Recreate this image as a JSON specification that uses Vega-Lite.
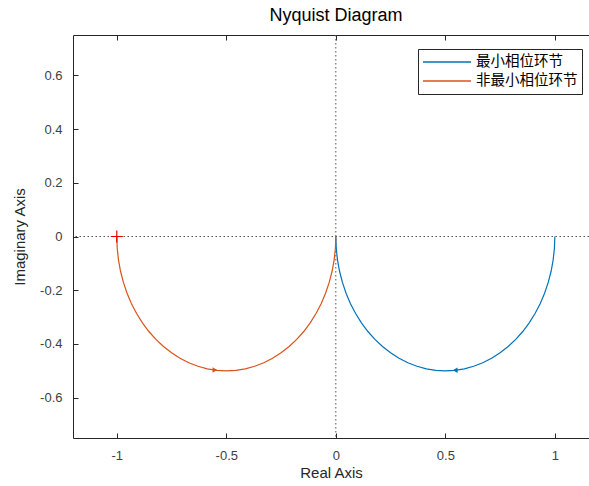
{
  "$schema": "https://vega.github.io/schema/vega-lite/v6.json",
  "width": 516,
  "height": 403,
  "autosize": {"type": "none"},
  "padding": {"left": 73, "top": 35, "right": 0, "bottom": 48},
  "background": "white",
  "title": {"text": "Nyquist Diagram", "font": "Liberation Sans", "fontSize": 18, "fontWeight": "normal", "color": "#000000", "anchor": "middle", "frame": "group", "dx": 5, "offset": 10},
  "datasets": {
    "curves": [
      {"s": "最小相位环节", "i": 0, "re": 1, "im": 0},
      {"s": "最小相位环节", "i": 1, "re": 0.9981, "im": -0.0436},
      {"s": "最小相位环节", "i": 2, "re": 0.9924, "im": -0.0868},
      {"s": "最小相位环节", "i": 3, "re": 0.983, "im": -0.1294},
      {"s": "最小相位环节", "i": 4, "re": 0.9698, "im": -0.171},
      {"s": "最小相位环节", "i": 5, "re": 0.9532, "im": -0.2113},
      {"s": "最小相位环节", "i": 6, "re": 0.933, "im": -0.25},
      {"s": "最小相位环节", "i": 7, "re": 0.9096, "im": -0.2868},
      {"s": "最小相位环节", "i": 8, "re": 0.883, "im": -0.3214},
      {"s": "最小相位环节", "i": 9, "re": 0.8536, "im": -0.3536},
      {"s": "最小相位环节", "i": 10, "re": 0.8214, "im": -0.383},
      {"s": "最小相位环节", "i": 11, "re": 0.7868, "im": -0.4096},
      {"s": "最小相位环节", "i": 12, "re": 0.75, "im": -0.433},
      {"s": "最小相位环节", "i": 13, "re": 0.7113, "im": -0.4532},
      {"s": "最小相位环节", "i": 14, "re": 0.671, "im": -0.4698},
      {"s": "最小相位环节", "i": 15, "re": 0.6294, "im": -0.483},
      {"s": "最小相位环节", "i": 16, "re": 0.5868, "im": -0.4924},
      {"s": "最小相位环节", "i": 17, "re": 0.5436, "im": -0.4981},
      {"s": "最小相位环节", "i": 18, "re": 0.5, "im": -0.5},
      {"s": "最小相位环节", "i": 19, "re": 0.4564, "im": -0.4981},
      {"s": "最小相位环节", "i": 20, "re": 0.4132, "im": -0.4924},
      {"s": "最小相位环节", "i": 21, "re": 0.3706, "im": -0.483},
      {"s": "最小相位环节", "i": 22, "re": 0.329, "im": -0.4698},
      {"s": "最小相位环节", "i": 23, "re": 0.2887, "im": -0.4532},
      {"s": "最小相位环节", "i": 24, "re": 0.25, "im": -0.433},
      {"s": "最小相位环节", "i": 25, "re": 0.2132, "im": -0.4096},
      {"s": "最小相位环节", "i": 26, "re": 0.1786, "im": -0.383},
      {"s": "最小相位环节", "i": 27, "re": 0.1464, "im": -0.3536},
      {"s": "最小相位环节", "i": 28, "re": 0.117, "im": -0.3214},
      {"s": "最小相位环节", "i": 29, "re": 0.0904, "im": -0.2868},
      {"s": "最小相位环节", "i": 30, "re": 0.067, "im": -0.25},
      {"s": "最小相位环节", "i": 31, "re": 0.0468, "im": -0.2113},
      {"s": "最小相位环节", "i": 32, "re": 0.0302, "im": -0.171},
      {"s": "最小相位环节", "i": 33, "re": 0.017, "im": -0.1294},
      {"s": "最小相位环节", "i": 34, "re": 0.0076, "im": -0.0868},
      {"s": "最小相位环节", "i": 35, "re": 0.0019, "im": -0.0436},
      {"s": "最小相位环节", "i": 36, "re": 0, "im": 0},
      {"s": "非最小相位环节", "i": 0, "re": -1, "im": 0},
      {"s": "非最小相位环节", "i": 1, "re": -0.9981, "im": -0.0436},
      {"s": "非最小相位环节", "i": 2, "re": -0.9924, "im": -0.0868},
      {"s": "非最小相位环节", "i": 3, "re": -0.983, "im": -0.1294},
      {"s": "非最小相位环节", "i": 4, "re": -0.9698, "im": -0.171},
      {"s": "非最小相位环节", "i": 5, "re": -0.9532, "im": -0.2113},
      {"s": "非最小相位环节", "i": 6, "re": -0.933, "im": -0.25},
      {"s": "非最小相位环节", "i": 7, "re": -0.9096, "im": -0.2868},
      {"s": "非最小相位环节", "i": 8, "re": -0.883, "im": -0.3214},
      {"s": "非最小相位环节", "i": 9, "re": -0.8536, "im": -0.3536},
      {"s": "非最小相位环节", "i": 10, "re": -0.8214, "im": -0.383},
      {"s": "非最小相位环节", "i": 11, "re": -0.7868, "im": -0.4096},
      {"s": "非最小相位环节", "i": 12, "re": -0.75, "im": -0.433},
      {"s": "非最小相位环节", "i": 13, "re": -0.7113, "im": -0.4532},
      {"s": "非最小相位环节", "i": 14, "re": -0.671, "im": -0.4698},
      {"s": "非最小相位环节", "i": 15, "re": -0.6294, "im": -0.483},
      {"s": "非最小相位环节", "i": 16, "re": -0.5868, "im": -0.4924},
      {"s": "非最小相位环节", "i": 17, "re": -0.5436, "im": -0.4981},
      {"s": "非最小相位环节", "i": 18, "re": -0.5, "im": -0.5},
      {"s": "非最小相位环节", "i": 19, "re": -0.4564, "im": -0.4981},
      {"s": "非最小相位环节", "i": 20, "re": -0.4132, "im": -0.4924},
      {"s": "非最小相位环节", "i": 21, "re": -0.3706, "im": -0.483},
      {"s": "非最小相位环节", "i": 22, "re": -0.329, "im": -0.4698},
      {"s": "非最小相位环节", "i": 23, "re": -0.2887, "im": -0.4532},
      {"s": "非最小相位环节", "i": 24, "re": -0.25, "im": -0.433},
      {"s": "非最小相位环节", "i": 25, "re": -0.2132, "im": -0.4096},
      {"s": "非最小相位环节", "i": 26, "re": -0.1786, "im": -0.383},
      {"s": "非最小相位环节", "i": 27, "re": -0.1464, "im": -0.3536},
      {"s": "非最小相位环节", "i": 28, "re": -0.117, "im": -0.3214},
      {"s": "非最小相位环节", "i": 29, "re": -0.0904, "im": -0.2868},
      {"s": "非最小相位环节", "i": 30, "re": -0.067, "im": -0.25},
      {"s": "非最小相位环节", "i": 31, "re": -0.0468, "im": -0.2113},
      {"s": "非最小相位环节", "i": 32, "re": -0.0302, "im": -0.171},
      {"s": "非最小相位环节", "i": 33, "re": -0.017, "im": -0.1294},
      {"s": "非最小相位环节", "i": 34, "re": -0.0076, "im": -0.0868},
      {"s": "非最小相位环节", "i": 35, "re": -0.0019, "im": -0.0436},
      {"s": "非最小相位环节", "i": 36, "re": 0, "im": 0}
    ],
    "arrows": [
      {"s": "最小相位环节", "dir": "left", "re": 0.545, "im": -0.498},
      {"s": "非最小相位环节", "dir": "right", "re": -0.552, "im": -0.497}
    ],
    "critical": [{"re": -1, "im": 0}]
  },
  "layer": [
    {
      "data": {"values": [{"re": 0}]},
      "mark": {"type": "rule", "color": "#555555", "strokeDash": [1.5, 2.5], "strokeWidth": 1},
      "encoding": {
        "x": {"field": "re", "type": "quantitative", "scale": {"domain": [-1.2, 1.156], "nice": false, "zero": false},
          "axis": {"orient": "top", "values": [-1, -0.5, 0, 0.5, 1], "labels": false, "title": null, "tickSize": -5, "grid": false, "domainColor": "#262626", "tickColor": "#262626"}}
      }
    },
    {
      "data": {"values": [{"im": 0}]},
      "mark": {"type": "rule", "color": "#555555", "strokeDash": [1.5, 2.5], "strokeWidth": 1},
      "encoding": {
        "y": {"field": "im", "type": "quantitative", "scale": {"domain": [-0.75, 0.75], "nice": false, "zero": false}}
      }
    },
    {
      "data": {"name": "curves"},
      "mark": {"type": "line", "strokeWidth": 1.2, "clip": true},
      "encoding": {
        "x": {"field": "re", "type": "quantitative", "scale": {"domain": [-1.2, 1.156], "nice": false, "zero": false},
          "axis": {"orient": "bottom", "values": [-1, -0.5, 0, 0.5, 1], "labelExpr": "toString(datum.value)", "title": "Real Axis", "tickSize": -5, "labelPadding": 16, "titlePadding": 3, "grid": false}},
        "y": {"field": "im", "type": "quantitative", "scale": {"domain": [-0.75, 0.75], "nice": false, "zero": false},
          "axis": {"values": [-0.6, -0.4, -0.2, 0, 0.2, 0.4, 0.6], "labelExpr": "toString(datum.value)", "title": "Imaginary Axis", "tickSize": -5, "labelPadding": 16, "titlePadding": 12, "grid": false}},
        "color": {"field": "s", "type": "nominal", "scale": {"domain": ["最小相位环节", "非最小相位环节"], "range": ["#0072BD", "#D95319"]},
          "legend": {"title": null, "orient": "none", "legendX": 345, "legendY": 14, "symbolType": "stroke", "symbolSize": 2304, "symbolStrokeWidth": 1.5, "clipHeight": 18, "labelFont": "Noto Sans CJK SC", "labelFontSize": 14.5, "labelColor": "#000000", "strokeColor": "#262626", "fillColor": "white", "padding": 4, "rowPadding": 1, "cornerRadius": 0}},
        "order": {"field": "i", "type": "quantitative"}
      }
    },
    {
      "data": {"name": "arrows"},
      "mark": {"type": "point", "filled": true, "size": 30, "opacity": 1},
      "encoding": {
        "x": {"field": "re", "type": "quantitative", "scale": {"domain": [-1.2, 1.156], "nice": false, "zero": false}, "axis": null},
        "y": {"field": "im", "type": "quantitative"},
        "color": {"field": "s", "type": "nominal", "legend": null},
        "shape": {"field": "dir", "type": "nominal", "scale": {"domain": ["left", "right"], "range": ["triangle-left", "triangle-right"]}, "legend": null}
      }
    },
    {
      "data": {"name": "critical"},
      "mark": {"type": "point", "shape": "M-1,0H1M0,-1V1", "size": 144, "filled": false, "color": "#E00000", "strokeWidth": 1.2, "opacity": 1},
      "encoding": {
        "x": {"field": "re", "type": "quantitative", "scale": {"domain": [-1.2, 1.156], "nice": false, "zero": false}, "axis": null},
        "y": {"field": "im", "type": "quantitative"}
      }
    }
  ],
  "resolve": {"axis": {"x": "independent"}},
  "config": {
    "view": {"stroke": null},
    "axis": {"labelFont": "Liberation Sans", "labelFontSize": 13, "labelColor": "#404040", "titleFont": "Liberation Sans", "titleFontSize": 15, "titleFontWeight": "normal", "titleColor": "#262626", "domainColor": "#262626", "tickColor": "#262626", "domainWidth": 1, "tickWidth": 1}
  }
}
